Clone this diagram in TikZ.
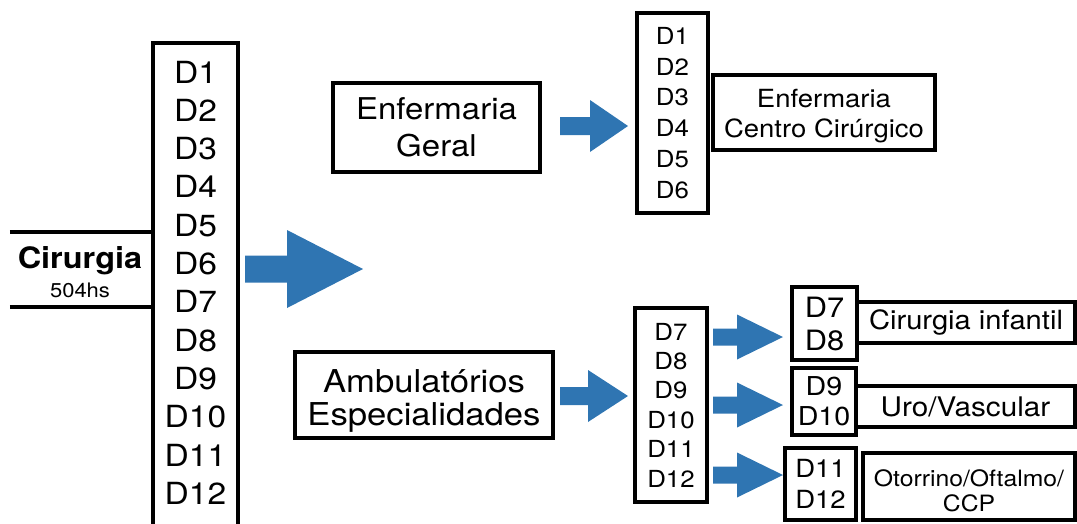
\documentclass[tikz,border=0pt]{standalone}
\usepackage{fontspec}
\setmainfont{TeX Gyre Heros}[FakeStretch=1.1]
\usepackage{tikz}
\usetikzlibrary{calc,positioning}
\definecolor{arrowblue}{RGB}{47,117,178}
\newcommand{\setfs}[2]{\fontsize{#1}{#2}\selectfont}
% block arrow: start, tip, shaft half width, head half width, head length
\newcommand{\blockarrow}[5]{%
  \fill[arrowblue] ($(#1)+(0,#3)$) -- ($(#2)+(-#5,#3)$) -- ($(#2)+(-#5,#4)$) -- (#2)
    -- ($(#2)+(-#5,-#4)$) -- ($(#2)+(-#5,-#3)$) -- ($(#1)+(0,-#3)$) -- cycle;}
\tikzset{frame/.style={draw=black,line width=3.5pt,inner sep=0pt,outer sep=0pt,align=center},
        txt/.style={inner sep=0pt,align=center}}

\begin{document}
\begin{tikzpicture}[x=1pt,y=-1pt]
  \useasboundingbox (0,0) rectangle (1077,523);
  \clip (0,0) rectangle (1077,523);

  % left block
  \node[txt,minimum width=143pt,minimum height=75pt] (cir) at (81.5,269.5) {};
  \draw[line width=3.5pt] (cir.north west) -- (cir.north east) (cir.south west) -- (cir.south east);
  \node[txt,font=\bfseries\setfs{29.5}{30},anchor=base] (cirname) at (80,268) {Cirurgia};
  \node[txt,font=\setfs{20}{22},anchor=base] (cirhrs) at (80,297) {504hs};

  \node[frame,minimum width=85pt,minimum height=500pt,anchor=north] (dall) at (195.5,43) {};
  \foreach \i in {1,...,12}
    \node[txt,font=\setfs{30.5}{36},anchor=base] (d\i) at (195.5,{83+38.3*(\i-1)}) {D\i};

  % upper branch
  \node[frame,minimum width=207pt,minimum height=89pt,font=\setfs{30}{37}] (geral) at (436.5,127.5) {Enfermaria\\Geral};
  \node[frame,minimum width=71pt,minimum height=200pt,font=\setfs{23.5}{30.8}] (dsix) at (672.5,113) {D1\\D2\\D3\\D4\\D5\\D6};
  \node[frame,minimum width=222pt,minimum height=75pt] (centro) at (824,112.5) {};
  \node[txt,font=\setfs{25}{30}] (centrotxt) at ($(centro)+(0,4)$) {Enfermaria\\Centro Cirúrgico};

  % lower branch
  \node[frame,minimum width=258pt,minimum height=86pt] (ambu) at (424,395) {};
  \node[txt,font=\setfs{31.5}{33}] (ambutxt) at ($(ambu)+(0,6)$) {Ambulatórios\\Especialidades};
  \node[frame,minimum width=72pt,minimum height=194pt,font=\setfs{23.5}{29.4}] (dsixb) at (671,405) {D7\\D8\\D9\\D10\\D11\\D12};

  \node[frame,minimum width=65pt,minimum height=73pt,font=\setfs{28}{33}] (dseven) at (824.5,323.5) {D7\\D8};
  \node[frame,minimum width=218pt,minimum height=41pt,font=\setfs{26.5}{30}] (infantil) at (966,322.5) {Cirurgia infantil};
  \node[frame,minimum width=64pt,minimum height=67pt,font=\setfs{26}{30}] (dnine) at (824,401.5) {D9\\D10};
  \node[frame,minimum width=219pt,minimum height=41pt,font=\setfs{27}{30}] (uro) at (965.5,406.5) {Uro/Vascular};
  \node[frame,minimum width=71pt,minimum height=72pt,font=\setfs{25}{31}] (deleven) at (820.5,484) {D11\\D12};
  \node[frame,minimum width=212pt,minimum height=67pt] (otorrino) at (969,486.5) {};
  \node[txt,font=\setfs{22.5}{25}] (otorrinotxt) at ($(otorrino)+(0,4)$) {Otorrino/Oftalmo/\\CCP};

  % arrows
  \coordinate (bigs) at (245,269);
  \coordinate (bigt) at (363,269);
  \coordinate (gs) at (560,126);
  \coordinate (gt) at (628,126);
  \coordinate (as) at (560,396);
  \coordinate (at) at (628,396);
  \coordinate (s1) at (713,337);
  \coordinate (t1) at (783,337);
  \coordinate (s2) at (713,405);
  \coordinate (t2) at (783,405);
  \coordinate (s3) at (713,475);
  \coordinate (t3) at (783,475);
  \blockarrow{bigs}{bigt}{13.5}{39}{76}
  \blockarrow{gs}{gt}{9}{26}{38}
  \blockarrow{as}{at}{9}{26}{40}
  \blockarrow{s1}{t1}{8.5}{22.5}{46}
  \blockarrow{s2}{t2}{8.5}{22.5}{46}
  \blockarrow{s3}{t3}{8.5}{22.5}{46}
\end{tikzpicture}
\end{document}
